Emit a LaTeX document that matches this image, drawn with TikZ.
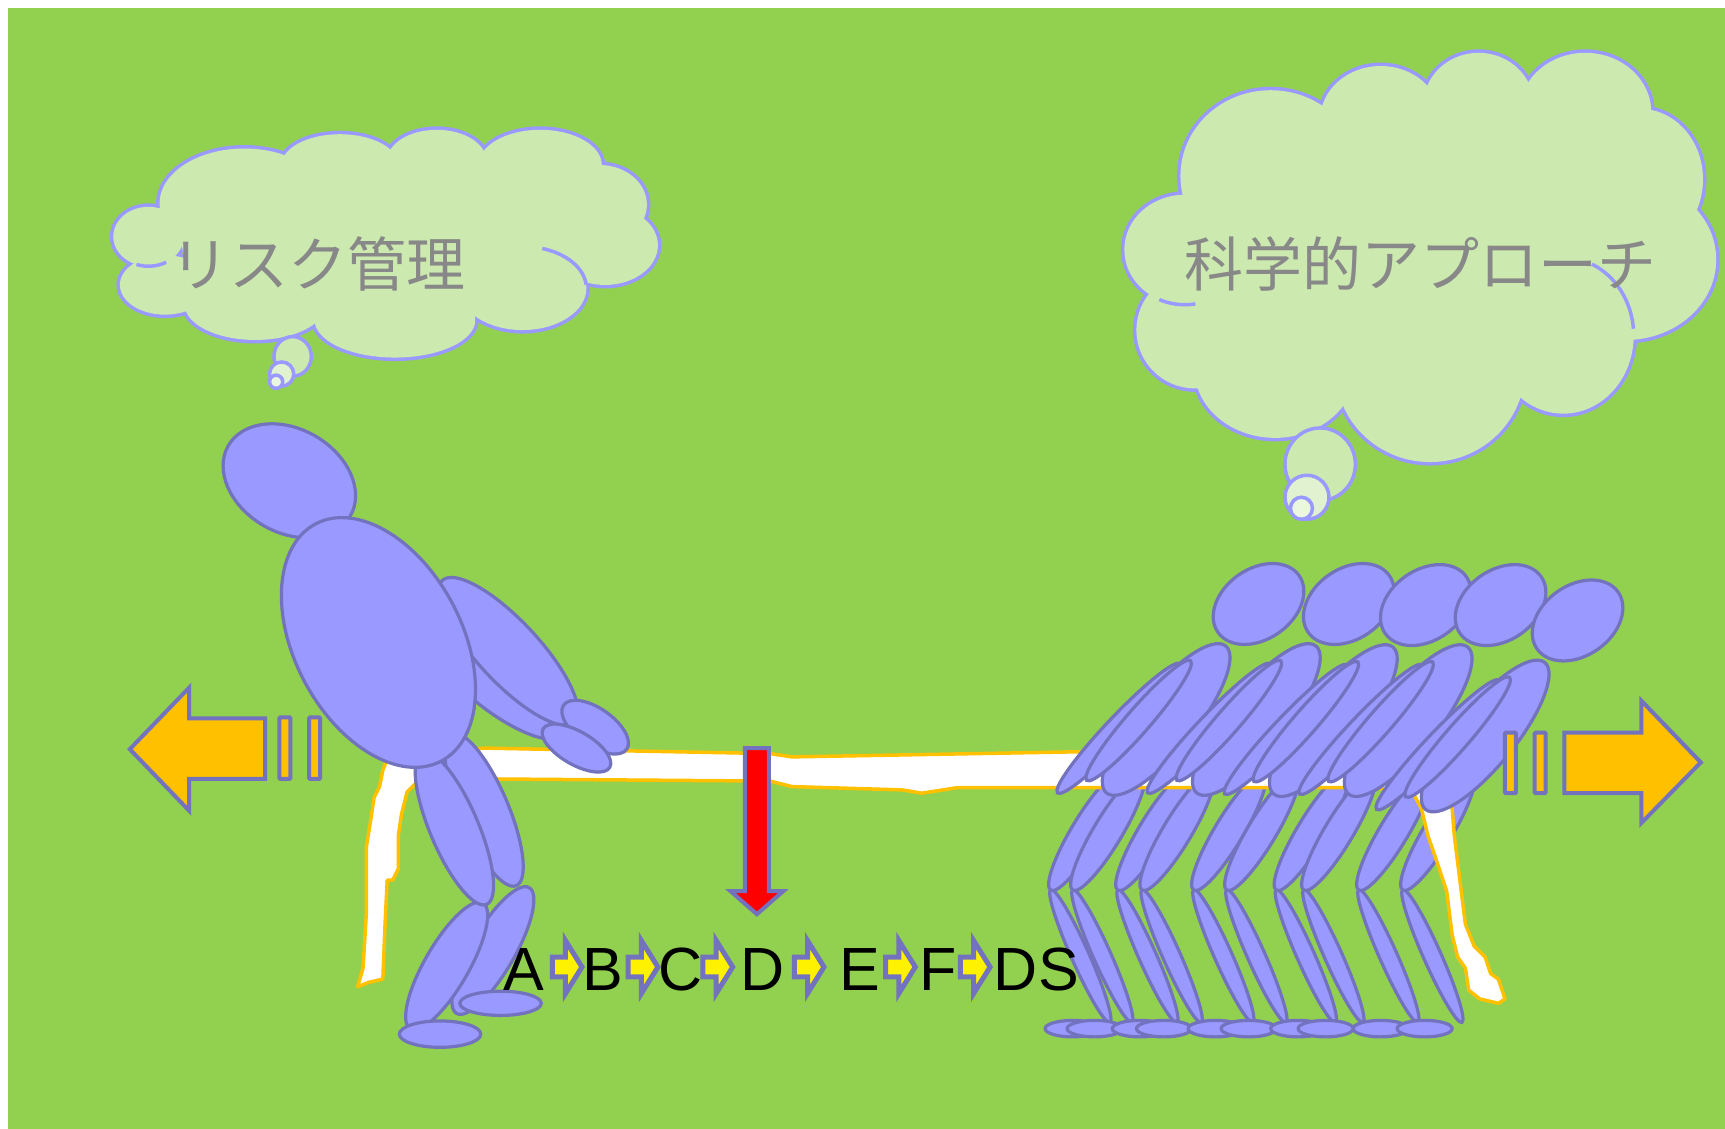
\documentclass[tikz,border=0pt]{standalone}
\usepackage{fontspec}
\setmainfont{Liberation Sans}
\newfontfamily\jpfont{Noto Sans CJK JP}

\definecolor{field}{HTML}{92D050}
\definecolor{cloudfill}{RGB}{204,234,176}
\definecolor{cloudline}{HTML}{9999FF}
\definecolor{bodyfill}{HTML}{9999FF}
\definecolor{bodyline}{RGB}{114,114,190}
\definecolor{pullcolor}{HTML}{FFC000}
\definecolor{thoughtgray}{RGB}{136,136,136}

\tikzset{
  puff/.style={fill=cloudfill,draw=cloudline,line width=3.5pt},
  puffrim/.style={draw=cloudline,line width=7pt},
  tuck/.style={draw=cloudline,line width=3.5pt},
  limb/.style={fill=bodyfill,draw=bodyline,line width=3.2pt},
  rope/.style={fill=white,draw=pullcolor,line width=3.5pt,line join=round},
  pullarrow/.style={fill=pullcolor,draw=bodyline,line width=4pt},
  pullbar/.style={fill=pullcolor,draw=bodyline,line width=4pt,rounded corners=1pt},
  steparrow/.style={fill=yellow,draw=bodyline,line width=5pt},
  thought/.style={font=\jpfont\fontsize{59}{59}\selectfont,text=thoughtgray,inner sep=0pt},
  stage/.style={font=\fontsize{61}{61}\selectfont,anchor=base,inner sep=0pt}
}

% one ellipse of a figure: centre x, centre y, half length, half width, angle
\newcommand{\limbat}[5]{\draw[limb,rotate around={#5:(#1,#2)}] (#1,#2) ellipse [x radius=#3,y radius=#4];}
% inner stroke of a cloud puff: centre x, centre y, radii, from and to angle
\newcommand{\tuckat}[6]{\draw[tuck] (#1,#2) ++(#5:#3 and #4) arc [start angle=#5,end angle=#6,x radius=#3,y radius=#4];}

% legs of one puller: first knee x, gap to second knee
\newcommand{\pullerlegs}[2]{%
  \foreach \kx in {#1,#1+#2} {
    \limbat{\kx+27}{869}{66}{8}{-66}
    \limbat{\kx+20}{935}{25}{7.5}{0}
  }
  \foreach \kx in {#1,#1+#2} {
    \limbat{\kx+32}{756}{62}{13}{59}
  }}
% trunk, arms and head of one puller, placed at his head
\newcommand{\pullertop}[2]{%
\begin{scope}[shift={(#1,#2)}]
  \limbat{-84}{105}{86}{27}{51}
  \limbat{-127}{113}{81}{11}{46.5}
  \limbat{-109}{106}{72}{11}{49}
  \limbat{0}{0}{45}{32}{35}
\end{scope}}

\begin{document}
\begin{tikzpicture}[x=1.1pt,y=-1.1pt]
\useasboundingbox (0,0) rectangle (1568,1026);
\fill[white] (0,0) rectangle (1568,1026);
\fill[field] (7.5,7.5) rectangle (1568,1026);

% left cloud
\foreach \cx/\cy/\rx/\ry in {135/215/32/27,222/185/77/50,309/150/53/28,397/146/45/28,491/150/56/32,545/186/43/36,550/223/48/36,475/262/58/38,359/291/73/34,232/277/64/32,150/259/41/27}
  \draw[puffrim] (\cx,\cy) ellipse [x radius=\rx,y radius=\ry];
\foreach \cx/\cy/\rx/\ry in {135/215/32/27,222/185/77/50,309/150/53/28,397/146/45/28,491/150/56/32,545/186/43/36,550/223/48/36,475/262/58/38,359/291/73/34,232/277/64/32,150/259/41/27}
  \fill[cloudfill] (\cx,\cy) ellipse [x radius=\rx,y radius=\ry];
\fill[cloudfill] (355,220) ellipse [x radius=190,y radius=70];
\tuckat{135}{215}{32}{27}{110}{60}
\tuckat{475}{262}{58}{38}{-72}{-5}
\draw[puff] (266,324) ellipse [x radius=17,y radius=18];
\draw[puff,fill=cloudfill!60!white] (256,340) circle [radius=11];
\draw[puff,fill=cloudfill!40!white] (251,347) circle [radius=6];

% right cloud
\foreach \cx/\cy/\rx/\ry in {1077/227/55/50,1155/160/82/78,1255/109/55/49,1344/95/50/47,1441/102/60/54,1491/163/57/64,1478/236/82/73,1421/305/64/71,1300/336/86/84,1159/336/73/62,1086/300/53/53}
  \draw[puffrim] (\cx,\cy) ellipse [x radius=\rx,y radius=\ry];
\foreach \cx/\cy/\rx/\ry in {1077/227/55/50,1155/160/82/78,1255/109/55/49,1344/95/50/47,1441/102/60/54,1491/163/57/64,1478/236/82/73,1421/305/64/71,1300/336/86/84,1159/336/73/62,1086/300/53/53}
  \fill[cloudfill] (\cx,\cy) ellipse [x radius=\rx,y radius=\ry];
\fill[cloudfill] (1290,230) ellipse [x radius=210,y radius=135];
\tuckat{1077}{227}{55}{50}{115}{80}
\tuckat{1421}{305}{64}{71}{-66}{-5}
\draw[puff] (1200,422) ellipse [x radius=32,y radius=33];
\draw[puff,fill=cloudfill!60!white] (1188,452) circle [radius=20];
\draw[puff,fill=cloudfill!40!white] (1183,462) circle [radius=10];

\node[thought] (risk) at (289,240) {リスク管理};
\node[thought] (science) at (1291,240) {科学的アプローチ};

% legs of the team, behind the rope
\foreach \knee/\gap in {955/20,1016/22,1085/30,1160/25,1235/40}
  {\pullerlegs{\knee}{\gap}}

% the rope
\draw[rope] (348,700) -- (352,690) -- (440,680) -- (700,685) -- (720,688) -- (1000,683) -- (1285,686) -- (1310,690) -- (1315,697) -- (1318,710) -- (1322,760) -- (1327,800) -- (1332,840) -- (1340,860) -- (1350,870) -- (1355,885) -- (1362,890) -- (1368,908) -- (1362,912) -- (1345,908) -- (1335,900) -- (1332,880) -- (1325,870) -- (1320,850) -- (1315,810) -- (1305,780) -- (1298,760) -- (1292,735) -- (1285,722) -- (1250,716) -- (1000,716) -- (870,716) -- (838,721) -- (820,718) -- (720,715) -- (700,710) -- (440,708) -- (378,712) -- (370,720) -- (365,740) -- (362,760) -- (362,790) -- (357,800) -- (352,800) -- (350,840) -- (348,890) -- (335,893) -- (325,897) -- (330,880) -- (333,830) -- (333,770) -- (337,745) -- (340,725) -- (345,715) -- cycle;

% lone puller on the left
\limbat{263}{437}{64}{47}{-30}
\limbat{452}{620}{78}{26}{-38}
\limbat{462}{592}{88}{28}{-47}
\limbat{541}{661}{35}{17}{-35}
\limbat{524}{680}{35}{15}{-30}
\limbat{448}{864}{66}{20}{60}
\limbat{455}{912}{37}{11}{0}
\limbat{440}{736}{75}{22}{-67}
\limbat{406}{878}{66}{20}{60}
\limbat{400}{940}{37}{12}{0}
\limbat{413}{753}{75}{22}{-67}
\limbat{344}{584}{122}{76}{-62}

% team on the right
\foreach \hx/\hy in {1144/549,1226/549,1296/550,1364/550,1434/564}
  {\pullertop{\hx}{\hy}}

% pulling directions
\draw[pullarrow] (241,653) -- (172,653) -- (172,625) -- (118,681) -- (172,737) -- (172,708) -- (241,708) -- cycle;
\draw[pullbar] (254,652) rectangle (264,708);
\draw[pullbar] (281,652) rectangle (291,708);
\draw[pullarrow] (1422,666) -- (1492,666) -- (1492,637) -- (1546,693) -- (1492,748) -- (1492,721) -- (1422,721) -- cycle;
\draw[pullbar] (1368,666) rectangle (1378,721);
\draw[pullbar] (1395,666) rectangle (1405,721);

% centre mark
\draw[fill=red,draw=bodyline,line width=4pt] (677,680) -- (699,680) -- (699,810) -- (712,810) -- (688,831) -- (664,810) -- (677,810) -- cycle;

% stages
\node[stage] (sa) at (476,900) {A};
\node[stage] (sb) at (548,900) {B};
\node[stage] (sc) at (619,900) {C};
\node[stage] (sd) at (693,900) {D};
\node[stage] (se) at (782,900) {E};
\node[stage] (sf) at (853,900) {F};
\node[stage] (sds) at (942,900) {DS};
\foreach \sx in {502,571,639,722,805,873}
  \draw[steparrow] (\sx,870) -- ++(12,0) -- ++(0,-15) -- ++(15,24) -- ++(-15,24) -- ++(0,-15) -- ++(-12,0) -- cycle;
\end{tikzpicture}
\end{document}
